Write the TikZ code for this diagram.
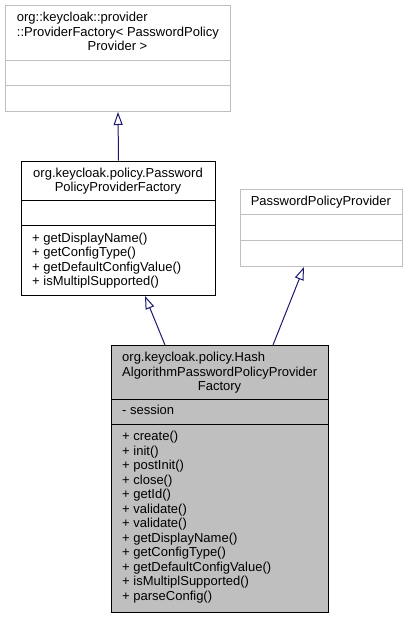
\documentclass[tikz,border=0pt]{standalone}
\usepackage{fontspec}
\setmainfont{Liberation Sans}
\usepackage{tikz}
\usetikzlibrary{arrows.meta, calc}
\definecolor{edgegrey}{RGB}{191,191,191}
\definecolor{classgrey}{RGB}{191,191,191}
\definecolor{inheritblue}{RGB}{25,25,112}

\tikzset{
    classbox/.style={draw, line width=1pt, anchor=north west, inner sep=0pt},
    titleline/.style={inner sep=0pt, font=\fontsize{13}{14.5}\selectfont},
    memberline/.style={inner sep=0pt, anchor=base west, font=\fontsize{13}{14.5}\selectfont},
    inherits/.style={draw=inheritblue, line width=1pt, -{Triangle[length=13pt, width=9pt, fill=white]}}
}

\begin{document}
\begin{tikzpicture}[x=1pt, y=-1pt]
    \useasboundingbox (0,0) rectangle (407,617);

    % ProviderFactory template
    \node[classbox, draw=edgegrey, minimum width=225, minimum height=106] (providerfactory) at (5,5) {};
    \draw[edgegrey, line width=1pt] (5,60.7) -- (230,60.7);
    \draw[edgegrey, line width=1pt] (5,86) -- (230,86);
    \node[titleline, anchor=base west] (pft1) at (16.7,21.7) {org::keycloak::provider};
    \node[titleline, anchor=base west] (pft2) at (16.7,36.2) {::ProviderFactory< PasswordPolicy};
    \node[titleline, anchor=base] (pft3) at (117.5,50.7) {Provider >};

    % PasswordPolicyProviderFactory
    \node[classbox, minimum width=194, minimum height=134.3] (policyfactory) at (21,160.7) {};
    \draw[line width=1pt] (21,200.7) -- (215,200.7);
    \draw[line width=1pt] (21,226) -- (215,226);
    \node[titleline, anchor=base] (ppf1) at (118,177.4) {org.keycloak.policy.Password};
    \node[titleline, anchor=base] (ppf2) at (118,191.9) {PolicyProviderFactory};
    \foreach \m [count=\i] in {+ getDisplayName(), + getConfigType(), + getDefaultConfigValue(), + isMultiplSupported()}
        \node[memberline] (ppfm\i) at (32,{242.4+14.5*(\i-1)}) {\m};

    % PasswordPolicyProvider
    \node[classbox, draw=edgegrey, minimum width=161.7, minimum height=77] (policyprovider) at (240,189) {};
    \draw[edgegrey, line width=1pt] (240,214.7) -- (401.7,214.7);
    \draw[edgegrey, line width=1pt] (240,240.7) -- (401.7,240.7);
    \node[titleline, anchor=base] (ppt1) at (320.9,205.9) {PasswordPolicyProvider};

    % HashAlgorithmPasswordPolicyProviderFactory
    \node[classbox, fill=classgrey, minimum width=216.7, minimum height=266.7] (hashfactory) at (111,345) {};
    \draw[line width=1pt] (111,399.3) -- (327.7,399.3);
    \draw[line width=1pt] (111,424.3) -- (327.7,424.3);
    \node[titleline, anchor=base west] (haf1) at (122,361.7) {org.keycloak.policy.Hash};
    \node[titleline, anchor=base west] (haf2) at (122,376.2) {AlgorithmPasswordPolicyProvider};
    \node[titleline, anchor=base] (haf3) at (219.5,390.7) {Factory};
    \node[memberline] (hafa1) at (122,414) {- session};
    \foreach \m [count=\i] in {+ create(), + init(), + postInit(), + close(), + getId(), + validate(), + validate(), + getDisplayName(), + getConfigType(), + getDefaultConfigValue(), + isMultiplSupported(), + parseConfig()}
        \node[memberline] (hafm\i) at (122,{440.7+14.5*(\i-1)}) {\m};

    % Inheritance
    \draw[inherits] (policyfactory.north) -- (providerfactory.south);
    \draw[inherits] ($(hashfactory.north west)+(54,0)$) -- ($(policyfactory.south west)+(124,0)$);
    \draw[inherits] ($(hashfactory.north west)+(162,0)$) -- ($(policyprovider.south west)+(64,0)$);
\end{tikzpicture}
\end{document}
